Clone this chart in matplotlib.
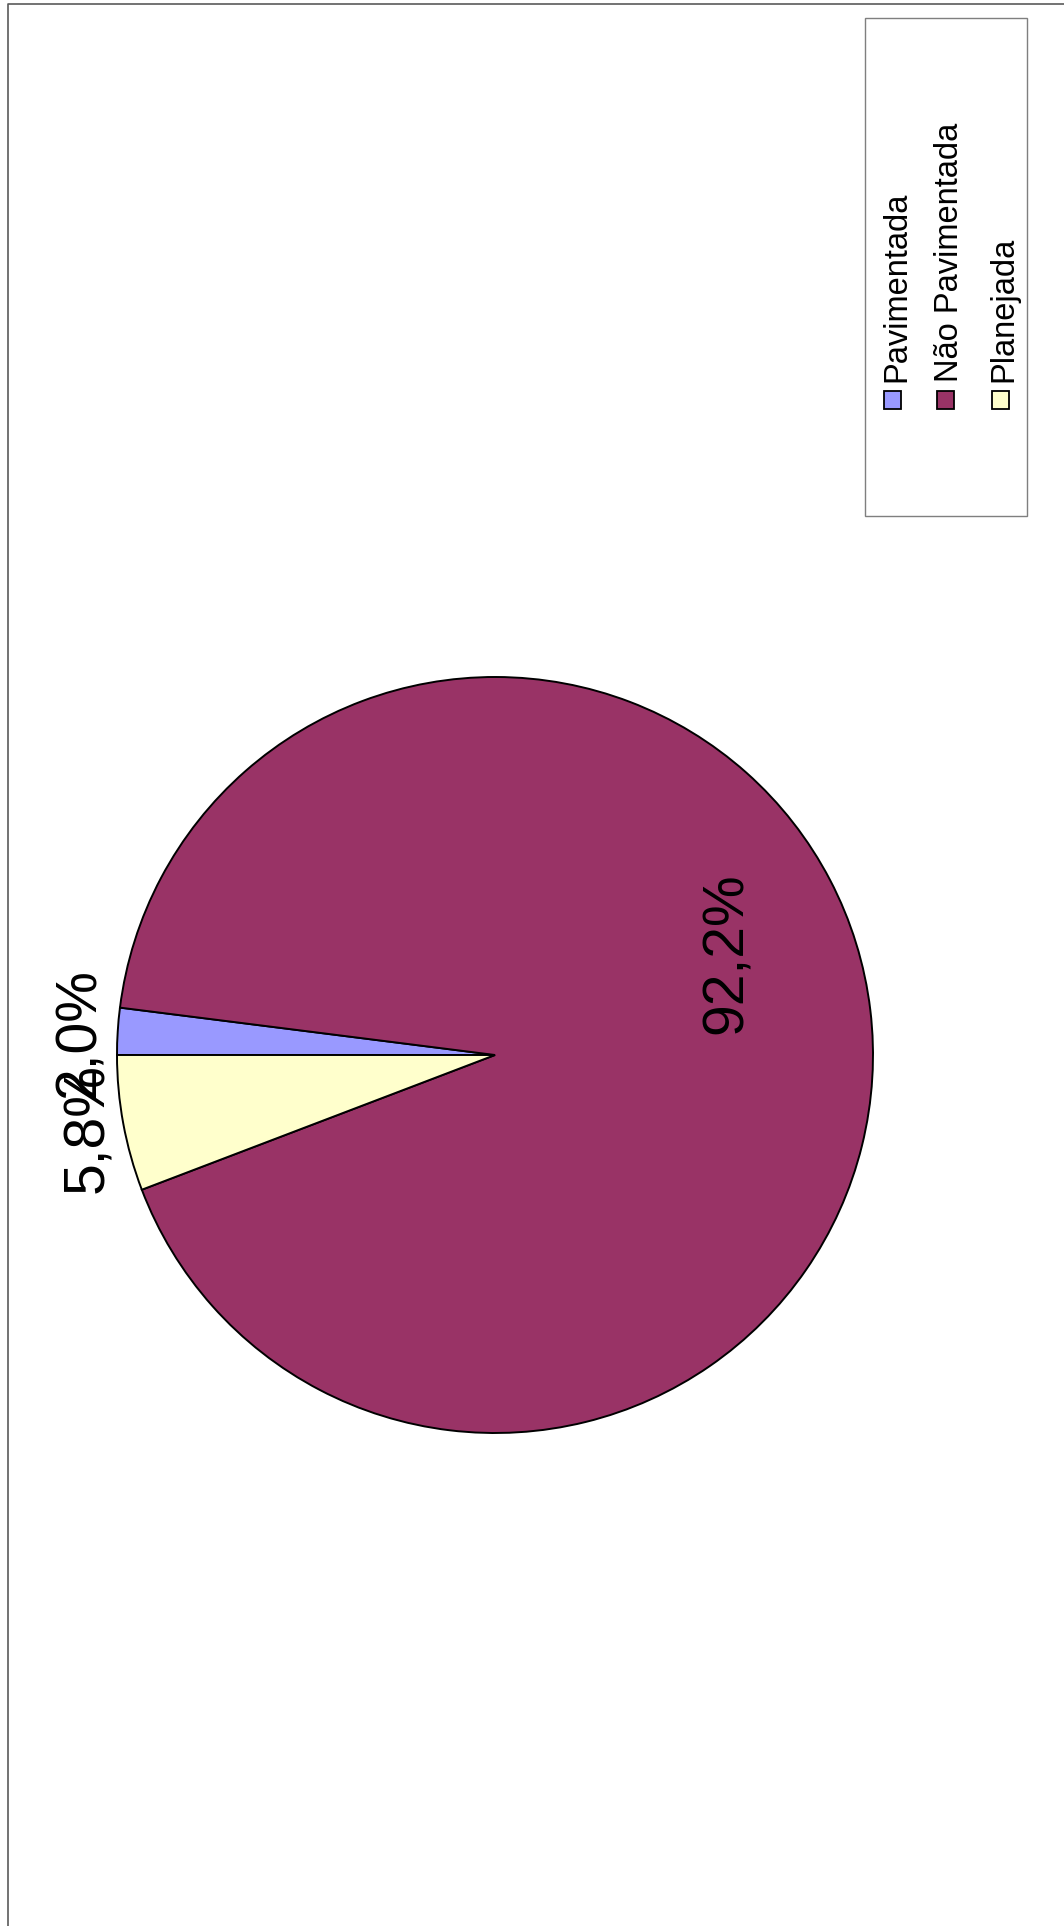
import matplotlib
matplotlib.use("Agg")
import matplotlib.pyplot as plt
from matplotlib.patches import Rectangle
from matplotlib.lines import Line2D

plt.rcParams['font.family'] = ['Liberation Sans', 'DejaVu Sans']

categories = ["Pavimentada", "Não Pavimentada", "Planejada"]
values = [2.0, 92.2, 5.8]
colors = ["#9999FF", "#993366", "#FFFFCC"]

W, H = 1064, 1926
fig = plt.figure(figsize=(W / 100, H / 100), dpi=100)


def fx(px):
    return px / W


def fy(py):
    return 1 - py / H


# outer frame (left and top edges visible)
fig.add_artist(Line2D([fx(8), fx(8), 1.0], [0.0, fy(4), fy(4)],
                      color="#5a5a5a", lw=1.2, transform=fig.transFigure))

# pie (rotated 90 degrees counter-clockwise view)
cx, cy, r = 495, 1055, 378
ax = fig.add_axes([fx(cx - r), fy(cy + r), fx(2 * r), 2 * r / H])
ax.pie(values, colors=colors, startangle=180, counterclock=False,
       wedgeprops=dict(edgecolor="black", linewidth=1.4))
ax.set_xlim(-1, 1)
ax.set_ylim(-1, 1)
ax.set_aspect('auto')
ax.axis('off')

# percentage labels (rotated)
label_pos = [(95, 1033), (742, 953), (103, 1128)]
for v, (bx, by) in zip(values, label_pos):
    fig.text(fx(bx), fy(by), f"{v:.1f}%".replace('.', ','), rotation=90,
             rotation_mode='anchor', ha='center', va='baseline',
             fontsize=41, color='black')

# legend (rotated)
fig.add_artist(Rectangle((fx(865), fy(516)), fx(1027 - 865), (516 - 18) / H,
                         facecolor='white', edgecolor='#7f7f7f', lw=1.0,
                         transform=fig.transFigure))
baselines = [905, 958, 1012]
sq = [884, 937, 992]
for name, col, bl, sx in zip(categories, colors, baselines, sq):
    fig.add_artist(Rectangle((fx(sx), fy(409)), fx(17), 18 / H,
                             facecolor=col, edgecolor='black', lw=1.3,
                             transform=fig.transFigure))
    fig.text(fx(bl), fy(382), name, rotation=90, rotation_mode='anchor',
             ha='left', va='baseline', fontsize=23.5, color='black')

fig.savefig("out.png", dpi=100)
